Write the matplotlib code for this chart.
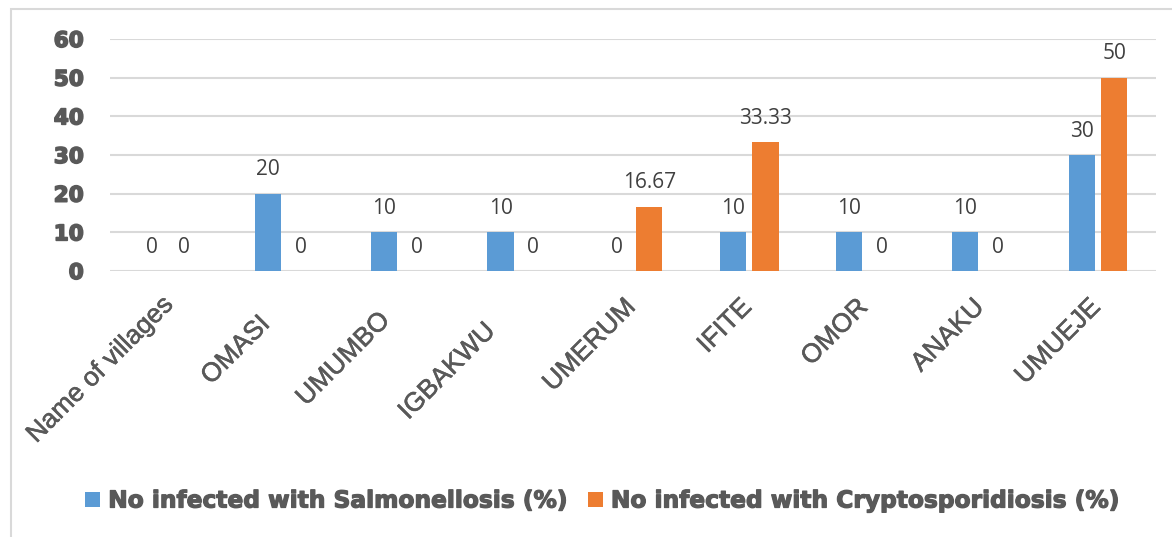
import matplotlib
matplotlib.use("Agg")
import matplotlib.pyplot as plt
from matplotlib.patches import Rectangle
from matplotlib import patheffects as pe
from matplotlib import transforms as mtrans
import numpy as np

categories = ["Name of villages", "OMASI", "UMUMBO", "IGBAKWU", "UMERUM",
              "IFITE", "OMOR", "ANAKU", "UMUEJE"]
salmonellosis = [0, 20, 10, 10, 0, 10, 10, 10, 30]
cryptosporidiosis = [0, 0, 0, 0, 16.67, 33.33, 0, 0, 50]
value_labels_s = ["0", "20", "10", "10", "0", "10", "10", "10", "30"]
value_labels_c = ["0", "0", "0", "0", "16.67", "33.33", "0", "0", "50"]
series_names = ["No infected with Salmonellosis (%)", "No infected with Cryptosporidiosis (%)"]
yticks = [0, 10, 20, 30, 40, 50, 60]

# layout-only: how far (px, along the 45deg direction) each category label sits back
label_backoff_px = [-4, 24, 19, 34, 0, 0, 0, 0, 0]

BLUE = "#5B9BD5"
ORANGE = "#ED7D31"
TXT = "#595959"
HEAVY = "DejaVu Sans"

W, H = 1172, 537
fig = plt.figure(figsize=(W / 100, H / 100), dpi=100)
ax = fig.add_axes([110 / W, 1 - 271 / H, (1156 - 110) / W, (271 - 39) / H])

x = np.arange(len(categories))
bw = 0.224
off = 0.14
b1 = ax.bar(x - off, salmonellosis, bw, color=BLUE, label=series_names[0], zorder=3)
b2 = ax.bar(x + off, cryptosporidiosis, bw, color=ORANGE, label=series_names[1], zorder=3)

for xs, vals, labs in ((x - off, salmonellosis, value_labels_s),
                       (x + off, cryptosporidiosis, value_labels_c)):
    for xi, v, s in zip(xs, vals, labs):
        ax.annotate(s, (xi, v), xytext=(0, 9.5), textcoords="offset points",
                    ha="center", va="bottom", fontsize=15, color="#404040",
                    family="Open Sans")

ax.set_xlim(-0.5, len(categories) - 0.5)
ax.set_ylim(0, 60)
ax.set_yticks(yticks)
ax.set_yticklabels([str(t) for t in yticks], fontsize=15.5, fontweight="bold",
                   family=HEAVY, color=TXT)
for t in ax.get_yticklabels():
    t.set_path_effects([pe.withStroke(linewidth=1.2, foreground=TXT)])
ax.grid(axis="y", color="#d9d9d9", linewidth=1.5, zorder=0)
ax.set_axisbelow(True)
for sp in ax.spines.values():
    sp.set_visible(False)
ax.tick_params(axis="y", length=0, pad=19)
ax.set_xticks(x)
ax.set_xticklabels([])
ax.tick_params(axis="x", length=0)

blend = mtrans.blended_transform_factory(ax.transData, ax.transAxes)
for xi, lab, bo in zip(x, categories, label_backoff_px):
    d = bo / np.sqrt(2)
    tr = blend + mtrans.ScaledTranslation((2 - 12 - d) / 100, (-24 - d) / 100,
                                          fig.dpi_scale_trans)
    ax.text(xi, 0, lab, transform=tr, rotation=45, ha="right", va="top",
            rotation_mode="anchor", fontsize=19, color=TXT, family="Liberation Sans",
            path_effects=[pe.withStroke(linewidth=0.4, foreground=TXT)], clip_on=False)

leg = fig.legend(handles=[b1, b2], loc="center", bbox_to_anchor=(603 / W, 1 - 501 / H),
                 ncol=2, frameon=False, handlelength=0.65, handleheight=0.65,
                 handletextpad=0.35, columnspacing=0.78,
                 prop={"family": HEAVY, "weight": "bold", "size": 16.8})
for t in leg.get_texts():
    t.set_color(TXT)
    t.set_path_effects([pe.withStroke(linewidth=0.9, foreground=TXT)])

fig.patches.append(Rectangle((10.5 / W, -0.05), 1.2, 1.05 - 8.5 / H, transform=fig.transFigure,
                             fill=False, edgecolor="#d9d9d9", linewidth=1.5))

fig.savefig("out.png", dpi=100)
